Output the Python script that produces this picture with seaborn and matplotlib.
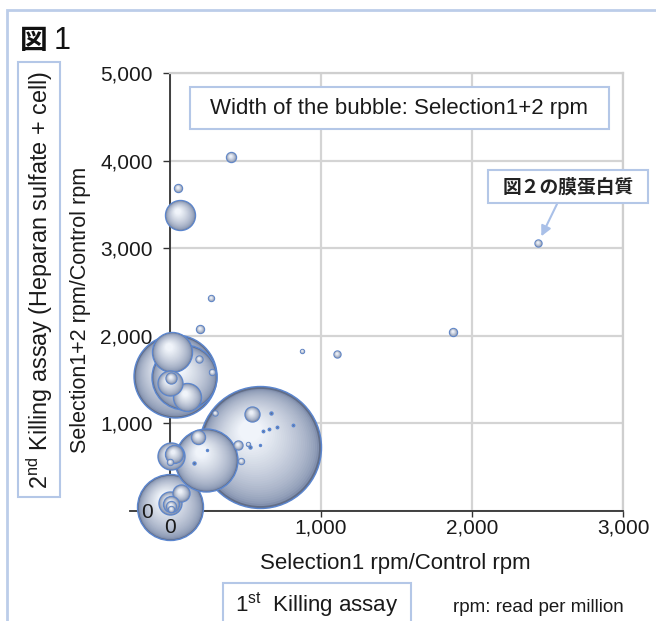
import numpy as np
import pandas as pd
import matplotlib
matplotlib.use("Agg")
import matplotlib.pyplot as plt
import seaborn as sns
from matplotlib.path import Path
from matplotlib.markers import MarkerStyle
from matplotlib.patches import Rectangle
from matplotlib.ticker import MultipleLocator, FuncFormatter
from matplotlib.colors import to_rgb

# ---------------- data ----------------
x_sel1 = [402, 55, 66, 272, 199, 872, 1108, 1876, 2439,
          33, 11, 93, 0, 5, 110, 192, 276,
          598, 541, 298, 669, 614, 654, 706, 817, 452, 519, 530, 596, 470,
          238, 183, 159, 247,
          5, 26, 0,
          0, 71, 0, 7, 7, 7]
y_sel12 = [4046, 3685, 3379, 2427, 2073, 1825, 1787, 2039, 3063,
           1539, 1817, 1528, 1460, 1517, 1303, 1734, 1589,
           731, 1102, 1117, 1117, 914, 930, 960, 979, 751, 762, 725, 751, 568,
           579, 846, 542, 694,
           629, 648, 553,
           40, 206, 88, 77, 54, 19]
bubble_width = [10, 8, 30, 6, 8, 4, 7, 8, 7,
                83, 40, 65, 25, 11, 28, 7, 6,
                122, 15, 5, 3, 2.5, 2.5, 2.5, 2.5, 9, 4, 3, 2, 6,
                63, 14, 3, 2,
                27, 18, 6,
                66, 17, 23, 16, 10, 6]
x_ticks = [0, 1000, 2000, 3000]
y_ticks = [0, 1000, 2000, 3000, 4000, 5000]
highlight_idx = 8  # 図２の膜蛋白質

# ---------------- style ----------------
sns.set_theme(style="white")
plt.rcParams["font.family"] = ["Liberation Sans", "Noto Sans CJK JP", "DejaVu Sans"]
plt.rcParams["mathtext.fontset"] = "custom"
plt.rcParams["mathtext.rm"] = "Liberation Sans"
plt.rcParams["mathtext.it"] = "Liberation Sans"

W, H = 656, 621
fig = plt.figure(figsize=(W / 100, H / 100), dpi=100)
fig.patch.set_facecolor("white")

ax_pos = [170 / W, 1 - 510.7 / H, 453 / W, 437.7 / H]
ax = fig.add_axes(ax_pos)
ax.set_xlim(0, 3000)
ax.set_ylim(0, 5000)

ax.xaxis.set_major_locator(MultipleLocator(500))
ax.xaxis.set_minor_locator(MultipleLocator(100))
ax.yaxis.set_major_locator(MultipleLocator(1000))
ax.yaxis.set_minor_locator(MultipleLocator(200))
ax.grid(True, which="major", color="#d4d4d4", lw=1.6)
ax.set_axisbelow(True)
ax.tick_params(axis="both", which="both", labelbottom=False, labelleft=False,
               direction="out", color="#333333", width=1.0)
ax.tick_params(axis="x", which="major", length=4, bottom=True)
ax.tick_params(axis="x", which="minor", length=3.5, bottom=True)
ax.tick_params(axis="y", which="major", length=5, left=True)
ax.tick_params(axis="y", which="minor", length=3.5, left=True)
for side in ["top", "right"]:
    ax.spines[side].set_color("#cfcfcf")
    ax.spines[side].set_linewidth(1.6)
for side in ["left", "bottom"]:
    ax.spines[side].set_color("#333333")
    ax.spines[side].set_linewidth(1.3)
ax.spines["bottom"].set_bounds(-265, 3000)

# ---------------- bubbles ----------------
df = pd.DataFrame({"x": x_sel1, "y": y_sel12, "w": bubble_width})
df = df.sort_values("w", ascending=False, kind="stable").reset_index(drop=True)


def layer_marker(f, cx, cy):
    circ = Path.circle((cx, cy), f)
    verts = np.vstack([[1.0, 0.0], circ.vertices])
    codes = [Path.MOVETO] + list(circ.codes)
    return MarkerStyle(Path(verts, codes))


def mix(c1, c2, t):
    a, b = np.array(to_rgb(c1)), np.array(to_rgb(c2))
    return tuple(a + (b - a) * t)


N = 30
layers = []
for k in range(N):
    t = k / (N - 1)
    f = 0.96 - 0.78 * t
    layers.append((layer_marker(f, -0.17 * t, 0.27 * t),
                   mix("#8290ad", "#f0f4fa", t ** 0.65)))

z = 3.0
for i, row in df.iterrows():
    s = (row.w * 0.72) ** 2
    sns.scatterplot(x=[row.x], y=[row.y], s=s, color="#616d87",
                    edgecolor="#5b86cf", linewidth=1.0, ax=ax,
                    clip_on=False, zorder=z, legend=False)
    z += 0.001
    if row.w >= 4:
        nl = N if row.w >= 20 else 10
        step = max(1, N // nl)
        for mk, col in layers[::step]:
            ax.scatter([row.x], [row.y], s=s, marker=mk, color=col,
                       linewidths=0, clip_on=False, zorder=z)
            z += 0.001

ax.set_xlabel("")
ax.set_ylabel("")

# annotation arrow to highlighted bubble
ax.annotate("", xy=(x_sel1[highlight_idx], y_sel12[highlight_idx]), xycoords="data",
            xytext=(557 / W, 1 - 204 / H), textcoords="figure fraction",
            arrowprops=dict(arrowstyle="-|>,head_length=0.5,head_width=0.25",
                            color="#a9c0e8", lw=1.5, shrinkA=0, shrinkB=5),
            zorder=10)

# overlay axes for tick labels (above bubbles)
ax2 = fig.add_axes(ax_pos, sharex=ax, sharey=ax)
ax2.patch.set_visible(False)
for sp in ax2.spines.values():
    sp.set_visible(False)
ax2.grid(False)
ax2.set_xticks(x_ticks)
ax2.set_yticks(y_ticks)
ax2.xaxis.set_minor_locator(plt.NullLocator())
ax2.yaxis.set_minor_locator(plt.NullLocator())
fmt = FuncFormatter(lambda v, p: f"{int(v):,}")
ax2.xaxis.set_major_formatter(fmt)
ax2.yaxis.set_major_formatter(fmt)
ax2.tick_params(axis="x", length=0, pad=5.5, labelsize=15, labelcolor="#1a1a1a")
ax2.tick_params(axis="y", length=0, pad=12.5, labelsize=15, labelcolor="#1a1a1a")
ax2.set_xlim(0, 3000)
ax2.set_ylim(0, 5000)


# ---------------- boxes and texts ----------------
def fig_box(x0, y0, x1, y1, fill=True, lw=1.5, ec="#b4c7e7"):
    r = Rectangle((x0 / W, 1 - y1 / H), (x1 - x0) / W, (y1 - y0) / H,
                  transform=fig.transFigure, facecolor="white" if fill else "none",
                  edgecolor=ec, lw=lw, zorder=5)
    fig.add_artist(r)


def ftext(x, y, s, **kw):
    fig.text(x / W, 1 - y / H, s, zorder=6, **kw)


# outer frame
fig_box(7, 10, 670, 640, fill=False, lw=2.0, ec="#bccde9")

ftext(20, 41, "図", fontsize=20, fontweight="bold", family=["Noto Sans CJK JP"],
      ha="left", va="center", color="#111111")
ftext(54, 41, "1", fontsize=22, family=["Liberation Sans"], ha="left",
      va="center", color="#111111")

# legend-like box
fig_box(190, 87, 609, 129)
ftext(399.5, 108.5, "Width of the bubble: Selection1+2 rpm", fontsize=16,
      ha="center", va="center", color="#1a1a1a")

# callout box
fig_box(488, 170, 648, 203)
ftext(568, 187, "図２の膜蛋白質", fontsize=13.5, fontweight="bold",
      family=["Noto Sans CJK JP"], ha="center", va="center", color="#222222")

# left outer label box
fig_box(18, 62, 60, 497)
ftext(39.5, 280, r"2$^{\mathrm{nd}}$ Killing assay (Heparan sulfate + cell)",
      fontsize=16.8, rotation=90, ha="center", va="center", color="#1a1a1a")

# axis titles
ftext(81, 310, "Selection1+2 rpm/Control rpm", fontsize=15.5, rotation=90,
      ha="center", va="center", color="#1a1a1a")
ftext(395, 563, "Selection1 rpm/Control rpm", fontsize=16,
      ha="center", va="center", color="#1a1a1a")

# bottom box
fig_box(223, 583, 411, 640)
ftext(317, 605, r"1$^{\mathrm{st}}$  Killing assay", fontsize=16,
      ha="center", va="center", color="#1a1a1a")

ftext(538, 608, "rpm: read per million", fontsize=13.5, ha="center",
      va="center", color="#1a1a1a")

fig.savefig("out.png", dpi=100, facecolor="white")
